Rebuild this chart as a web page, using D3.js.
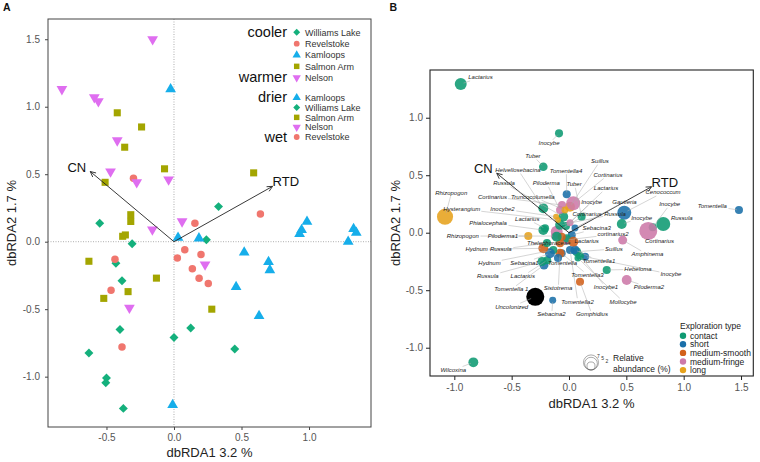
<!DOCTYPE html>
<html><head><meta charset="utf-8">
<script src="https://cdn.jsdelivr.net/npm/d3@7"></script>
<style>body{margin:0;background:#fff} svg{display:block} text{font-family:"Liberation Sans",Arial,Helvetica,sans-serif}</style>
</head><body><svg id="c" width="760" height="462"></svg>
<script>
// ---------------- DATA: panel A (site scores) ----------------
const sitesA = ["Williams Lake","Revelstoke","Kamloops","Salmon Arm","Nelson"];
const williamsLake = [[0.33,0.26],[-0.55,0.136],[0.24,0.015],[-0.31,-0.015],[-0.43,-0.16],[-0.385,-0.29],[-0.40,-0.65],[0.124,-0.64],[0.0,-0.71],[0.45,-0.795],[-0.63,-0.825],[-0.50,-1.01],[-0.505,-1.045],[-0.375,-1.235]];
const revelstoke = [[-0.30,0.47],[0.155,0.136],[0.64,0.205],[0.08,-0.06],[0.025,-0.12],[0.20,-0.095],[0.136,-0.20],[0.186,-0.27],[0.254,-0.31],[-0.437,-0.13],[-0.466,-0.36],[-0.385,-0.78]];
const kamloops = [[-0.025,1.13],[0.03,0.03],[0.185,0.025],[0.985,0.148],[0.945,0.087],[0.93,0.057],[1.33,0.094],[1.35,0.067],[1.29,0.0],[0.52,-0.08],[0.70,-0.15],[0.71,-0.21],[0.46,-0.335],[0.63,-0.55],[-0.01,-1.21]];
const salmonArm = [[-0.42,0.955],[-0.24,0.85],[-0.365,0.70],[-0.07,0.54],[0.59,0.51],[-0.51,0.44],[-0.32,0.20],[-0.32,0.15],[-0.38,0.04],[-0.36,0.05],[-0.63,-0.145],[-0.13,-0.27],[-0.34,-0.37],[-0.52,-0.42],[0.28,-0.50]];
const nelson = [[-0.158,1.50],[-0.83,1.13],[-0.59,1.07],[-0.56,1.04],[-0.42,0.75],[-0.47,0.52],[-0.276,0.44],[-0.04,0.46],[0.06,0.15],[-0.16,0.09],[0.23,-0.17],[-0.33,-0.49]];
const envA = [{name:"CN",x:-0.62,y:0.52},{name:"RTD",x:0.73,y:0.41}];
const legendA1 = [["cooler","Williams Lake"],["","Revelstoke"],["","Kamloops"],["","Salmon Arm"],["warmer","Nelson"]];
const legendA2 = [["drier","Kamloops"],["","Williams Lake"],["","Salmon Arm"],["","Nelson"],["wet","Revelstoke"]];
const ticksAx = [-0.5,0,0.5,1.0];
const ticksAy = [-1.0,-0.5,0,0.5,1.0,1.5];

// ---------------- DATA: panel B (taxa scores) ----------------
const genus = ["Lactarius","Inocybe","Tuber","Helvellosebacina","Tomentella4","Russula","Piloderma","Tuber","Suillus","Cortinarius",
 "Lactarius","Inocybe","Cenococcum","Gautieria","Cortinarius","Russula","Inocybe","Inocybe","Russula","Cortinarius",
 "Tomentella","Sebacina3","cortinarius2","Amphinema","Lactarius","Suillus","Tomentella1","Hebeloma","Inocybe","Piloderma2",
 "Tomentella3","Inocybe1","Gomphidius","Tomentella2","Mollocybe","Sistotrema","Sebacina2","Uncolonized","Tomentella 1","Wilcoxina",
 "Russula","Lactarius","Hydnum","Sebacina1","Tomentella","Hydnum","Russula","Rhizopogon","Piloderma1","Thelephoraceae",
 "Phialocephala","Lactarius","Rhizopogon","Inocybe2","Cortinarius","Truncocolumella","Hysterangium","","",""];
const explType = ["contact","contact","contact","contact","short","contact","medium-fringe","contact","long","medium-fringe",
 "contact","medium-fringe","short","short","medium-fringe","contact","contact","contact","contact","medium-fringe",
 "short","short","medium-fringe","medium-fringe","contact","contact","short","contact","short","medium-fringe",
 "short","contact","medium-smooth","short","contact","medium-smooth","short","uncolonized","short","contact",
 "contact","contact","contact","short","short","medium-smooth","contact","long","medium-fringe","medium-smooth",
 "contact","contact","long","long","medium-fringe","long","long","medium-smooth","medium-smooth","contact"];
const scoreX = [-0.944,-0.087,-0.224,-0.224,-0.02,-0.05,-0.078,0.11,0.009,0.037,
 -0.026,0.009,0.482,0.052,-0.107,-0.078,0.46,0.73,0.822,0.691,
 1.482,0.024,-0.02,0.468,-0.02,0.067,0.052,0.329,0.14,0.503,
 -0.064,0.096,0.096,0.009,0.078,-0.078,-0.142,-0.294,-0.218,-0.834,
 -0.235,-0.19,-0.137,-0.166,-0.096,-0.224,-0.192,-0.355,-0.122,-0.064,
 -0.224,-0.209,-1.081,-0.113,-0.061,-0.035,-0.096,0.038,-0.078,-0.107];
const scoreY = [1.293,0.864,0.574,0.212,0.334,0.139,0.197,0.139,0.226,0.256,
 0.058,0.087,0.174,0.041,0.009,0.067,0.076,0.047,0.076,0.015,
 0.197,-0.02,-0.063,-0.064,-0.049,-0.165,-0.15,-0.324,-0.209,-0.411,
 -0.179,-0.203,-0.426,-0.15,-0.22,-0.179,-0.588,-0.557,-0.281,-1.127,
 -0.25,-0.24,-0.15,-0.179,-0.22,-0.136,-0.09,-0.029,-0.029,-0.035,
 0.023,0.038,0.139,0.139,0.241,0.197,0.11,-0.078,-0.092,-0.035];
const abundance = [4.4,2,2.3,3,2,3,2,2,3,6,
 2,1.5,6,1.5,4.4,3,3,2,6,10,
 2,2,2,2.5,2,2.5,2.5,2,2,3,
 2,2,2,2,1.5,2.5,1.5,10,2.5,3,
 2.5,2,2,3,2,3,2,2,2,2,
 3,2,8,1.1,2,1.5,1.1,3,2,3];
// label anchor positions (data units, as placed by the label-repel step)
const labelX = [-0.772,-0.174,-0.314,-0.445,-0.026,-0.567,-0.198,0.044,0.27,0.34,
 0.323,0.198,0.82,0.484,0.157,0.401,0.634,0.878,0.983,0.789,
 1.249,0.241,0.384,0.684,0.154,0.392,0.262,0.602,0.889,0.697,
 0.161,0.323,0.2,0.074,0.471,-0.096,-0.153,-0.5,-0.503,-1.009,
 -0.708,-0.403,-0.693,-0.388,-0.057,-0.805,-0.595,-0.926,-0.577,-0.177,
 -0.706,-0.364,-1.027,-0.58,-0.667,-0.315,-0.935,null,null,null];
const labelY = [1.351,0.777,0.667,0.545,0.539,0.43,0.43,0.421,0.623,0.502,
 0.386,0.27,0.35,0.27,0.163,0.163,0.13,0.247,0.125,-0.07,
 0.232,0.038,-0.014,-0.188,-0.07,-0.142,-0.246,-0.318,-0.362,-0.475,
 -0.368,-0.475,-0.71,-0.6,-0.6,-0.483,-0.71,-0.643,-0.492,-1.194,
 -0.377,-0.377,-0.261,-0.261,-0.261,-0.144,-0.144,-0.029,-0.029,-0.087,
 0.087,0.119,0.348,0.206,0.313,0.313,0.206,null,null,null];
const envB = [{name:"CN",x:-0.63,y:0.517},{name:"RTD",x:0.72,y:0.40}];
const typesB = ["contact","short","medium-smooth","medium-fringe","long"];
const abundLegend = [7,5,2];
const ticksBx = [-1.0,-0.5,0,0.5,1.0,1.5];
const ticksBy = [-1.0,-0.5,0,0.5,1.0];

// ---------------- STYLE ----------------
const colA = {"Williams Lake":"#14b07c","Revelstoke":"#f0766e","Kamloops":"#16aeea","Salmon Arm":"#a3a500","Nelson":"#df6ef0"};
const colB = {"contact":"#0e9a72","short":"#1a6fa9","medium-smooth":"#d2601a","medium-fringe":"#cd79a9","long":"#e6a21c","uncolonized":"#000"};
const fmt = d => d.toFixed(1);
const svg = d3.select("#c");

// ======== Panel A ========
const xA = d3.scaleLinear().domain([-0.933,1.459]).range([48,371]);
const yA = d3.scaleLinear().domain([-1.373,1.65]).range([427,19]);
const gA = svg.append("g");
gA.append("line").attr("x1",xA(0)).attr("x2",xA(0)).attr("y1",19).attr("y2",427).attr("stroke","#999").attr("stroke-dasharray","1,1.5").attr("stroke-width",0.8);
gA.append("line").attr("y1",yA(0)).attr("y2",yA(0)).attr("x1",48).attr("x2",371).attr("stroke","#999").attr("stroke-dasharray","1,1.5").attr("stroke-width",0.8);

function symFor(site, scale){
  const s = scale||1;
  if(site==="Williams Lake") return {p:d3.symbol(d3.symbolSquare, 40*s)(), rot:45};
  if(site==="Revelstoke") return {p:d3.symbol(d3.symbolCircle, 44*s)(), rot:0};
  if(site==="Kamloops") return {p:d3.symbol(d3.symbolTriangle, 50*s)(), rot:0};
  if(site==="Salmon Arm") return {p:d3.symbol(d3.symbolSquare, 50*s)(), rot:0};
  return {p:d3.symbol(d3.symbolTriangle, 50*s)(), rot:180};
}
const seriesA = {"Williams Lake":williamsLake,"Revelstoke":revelstoke,"Kamloops":kamloops,"Salmon Arm":salmonArm,"Nelson":nelson};
sitesA.forEach(site=>{
  const sm = symFor(site);
  gA.selectAll(null).data(seriesA[site]).join("path")
    .attr("d",sm.p).attr("fill",colA[site])
    .attr("transform",d=>`translate(${xA(d[0])},${yA(d[1])}) rotate(${sm.rot})`);
});
// env arrows
function drawArrows(g, xs, ys, env){
  const x0=xs(0), y0=ys(0);
  env.forEach(e=>{
    const x1=xs(e.x), y1=ys(e.y);
    const a=Math.atan2(y1-y0,x1-x0), L=6, w=0.45;
    g.append("line").attr("x1",x0).attr("y1",y0).attr("x2",x1).attr("y2",y1).attr("stroke","#222").attr("stroke-width",0.9);
    g.append("path").attr("d",`M${x1-L*Math.cos(a-w)},${y1-L*Math.sin(a-w)}L${x1},${y1}L${x1-L*Math.cos(a+w)},${y1-L*Math.sin(a+w)}`)
      .attr("fill","none").attr("stroke","#222").attr("stroke-width",0.9);
    const left = e.x<0;
    g.append("text").attr("x", left? x1-4 : x1).attr("y", y1).attr("text-anchor", left?"end":"start")
      .attr("font-size",13).attr("fill","#111").text(e.name);
  });
}
drawArrows(gA, xA, yA, envA);
// frame + axes
gA.append("rect").attr("x",48).attr("y",19).attr("width",323).attr("height",408).attr("fill","none").attr("stroke","#444").attr("stroke-width",1);
const axAx = gA.append("g").attr("transform","translate(0,427)").call(d3.axisBottom(xA).tickValues(ticksAx).tickFormat(fmt).tickSize(3).tickPadding(4));
const axAy = gA.append("g").attr("transform","translate(48,0)").call(d3.axisLeft(yA).tickValues(ticksAy).tickFormat(fmt).tickSize(3).tickPadding(5));
[axAx,axAy].forEach(a=>{a.select(".domain").remove(); a.selectAll("line").attr("stroke","#444"); a.selectAll("text").attr("fill","#555").attr("font-size",10).attr("font-family","Liberation Sans, Arial, sans-serif");});
gA.append("text").attr("x",209.5).attr("y",457).attr("text-anchor","middle").attr("font-size",13).attr("fill","#222").text("dbRDA1 3.2 %");
gA.append("text").attr("transform","translate(16,223) rotate(-90)").attr("text-anchor","middle").attr("font-size",13).attr("fill","#222").text("dbRDA2 1.7 %");
// legend A
function legendBlock(rows, y0, step){
  rows.forEach((r,i)=>{
    const y = y0+i*step;
    const sm = symFor(r[1],0.6);
    gA.append("path").attr("d",sm.p).attr("fill",colA[r[1]]).attr("transform",`translate(296.7,${y}) rotate(${sm.rot})`);
    gA.append("text").attr("x",305).attr("y",y+3.3).attr("font-size",9).attr("fill","#333").text(r[1]);
    if(r[0]) gA.append("text").attr("x",287).attr("y",y+4.5).attr("text-anchor","end").attr("font-size",14.5).attr("fill","#111").text(r[0]);
  });
}
legendBlock(legendA1, 32.3, 11.35);
legendBlock(legendA2, 97.7, 9.83);
svg.append("text").attr("x",3).attr("y",11).attr("font-size",10.5).attr("font-weight","bold").attr("fill","#111").text("A");

// ======== Panel B ========
const xB = d3.scaleLinear().domain([-1.212,1.607]).range([430,753.3]);
const yB = d3.scaleLinear().domain([-1.246,1.415]).range([376,70]);
const rB = d3.scaleSqrt().domain([0,1]).range([0,2.85]);
const gB = svg.append("g");
const idx = d3.range(scoreX.length);
gB.selectAll(null).data(idx).join("circle")
  .attr("cx",i=>xB(scoreX[i])).attr("cy",i=>yB(scoreY[i])).attr("r",i=>rB(abundance[i]))
  .attr("fill",i=>colB[explType[i]]).attr("fill-opacity",i=>explType[i]==="uncolonized"?1:0.88);
// arrows
drawArrows(gB, xB, yB, envB);
// labels with leader segments
const segG = gB.append("g"), labG = gB.append("g");
idx.forEach(i=>{
  if(!genus[i] || labelX[i]==null) return;
  const lx = xB(labelX[i]), ly = yB(labelY[i]);
  const t = labG.append("text").attr("x",lx).attr("y",ly+2).attr("text-anchor","middle")
    .attr("font-size",6).attr("font-style","italic").attr("fill","#222").text(genus[i]);
  const bb = t.node().getBBox();
  const px = xB(scoreX[i]), py = yB(scoreY[i]);
  const cx = bb.x+bb.width/2, cy = bb.y+bb.height/2;
  const dx = px-cx, dy = py-cy;
  const hw = bb.width/2+1, hh = bb.height/2+0.5;
  const tt = Math.min(dx===0?Infinity:hw/Math.abs(dx), dy===0?Infinity:hh/Math.abs(dy));
  if(tt>=1) return;
  const sx = cx+dx*tt, sy = cy+dy*tt;
  const d = Math.hypot(px-sx,py-sy), r = rB(abundance[i]);
  if(d < r+3) return;
  const ex = px-(px-sx)/d*r*0.5, ey = py-(py-sy)/d*r*0.5;
  segG.append("line").attr("x1",sx).attr("y1",sy).attr("x2",ex).attr("y2",ey).attr("stroke","#aaa").attr("stroke-width",0.5);
});
// frame + axes
gB.append("rect").attr("x",430).attr("y",70).attr("width",323.3).attr("height",306).attr("fill","none").attr("stroke","#222").attr("stroke-width",1.1);
const axBx = gB.append("g").attr("transform","translate(0,376)").call(d3.axisBottom(xB).tickValues(ticksBx).tickFormat(fmt).tickSize(4).tickPadding(4));
const axBy = gB.append("g").attr("transform","translate(430,0)").call(d3.axisLeft(yB).tickValues(ticksBy).tickFormat(fmt).tickSize(4).tickPadding(3));
[axBx,axBy].forEach(a=>{a.select(".domain").remove(); a.selectAll("line").attr("stroke","#222"); a.selectAll("text").attr("fill","#555").attr("font-size",10).attr("font-family","Liberation Sans, Arial, sans-serif");});
gB.append("text").attr("x",591.5).attr("y",408).attr("text-anchor","middle").attr("font-size",13).attr("fill","#222").text("dbRDA1 3.2 %");
gB.append("text").attr("transform","translate(400,223) rotate(-90)").attr("text-anchor","middle").attr("font-size",13).attr("fill","#222").text("dbRDA2 1.7 %");
// legend: exploration type
gB.append("text").attr("x",680).attr("y",329).attr("font-size",8.5).attr("fill","#222").text("Exploration type");
typesB.forEach((t,i)=>{
  const y = 335.7+i*8.6;
  gB.append("circle").attr("cx",683).attr("cy",y).attr("r",3.2).attr("fill",colB[t]);
  gB.append("text").attr("x",690).attr("y",y+3).attr("font-size",8.5).attr("fill","#222").text(t);
});
// legend: relative abundance (nested circles)
abundLegend.forEach((a,i)=>{
  const r = rB(a);
  gB.append("circle").attr("cx",591).attr("cy",370-r).attr("r",r).attr("fill","none").attr("stroke","#555").attr("stroke-width",0.5);
  gB.append("text").attr("x",597+i*4.2).attr("y",357.5+i*2.6).attr("font-size",5).attr("fill","#333").text(a);
});
gB.append("text").attr("x",613).attr("y",360.5).attr("font-size",8.5).attr("fill","#222").text("Relative");
gB.append("text").attr("x",613).attr("y",371.5).attr("font-size",8.5).attr("fill","#222").text("abundance (%)");
svg.append("text").attr("x",389.5).attr("y",11).attr("font-size",10.5).attr("font-weight","bold").attr("fill","#111").text("B");
</script></body></html>
